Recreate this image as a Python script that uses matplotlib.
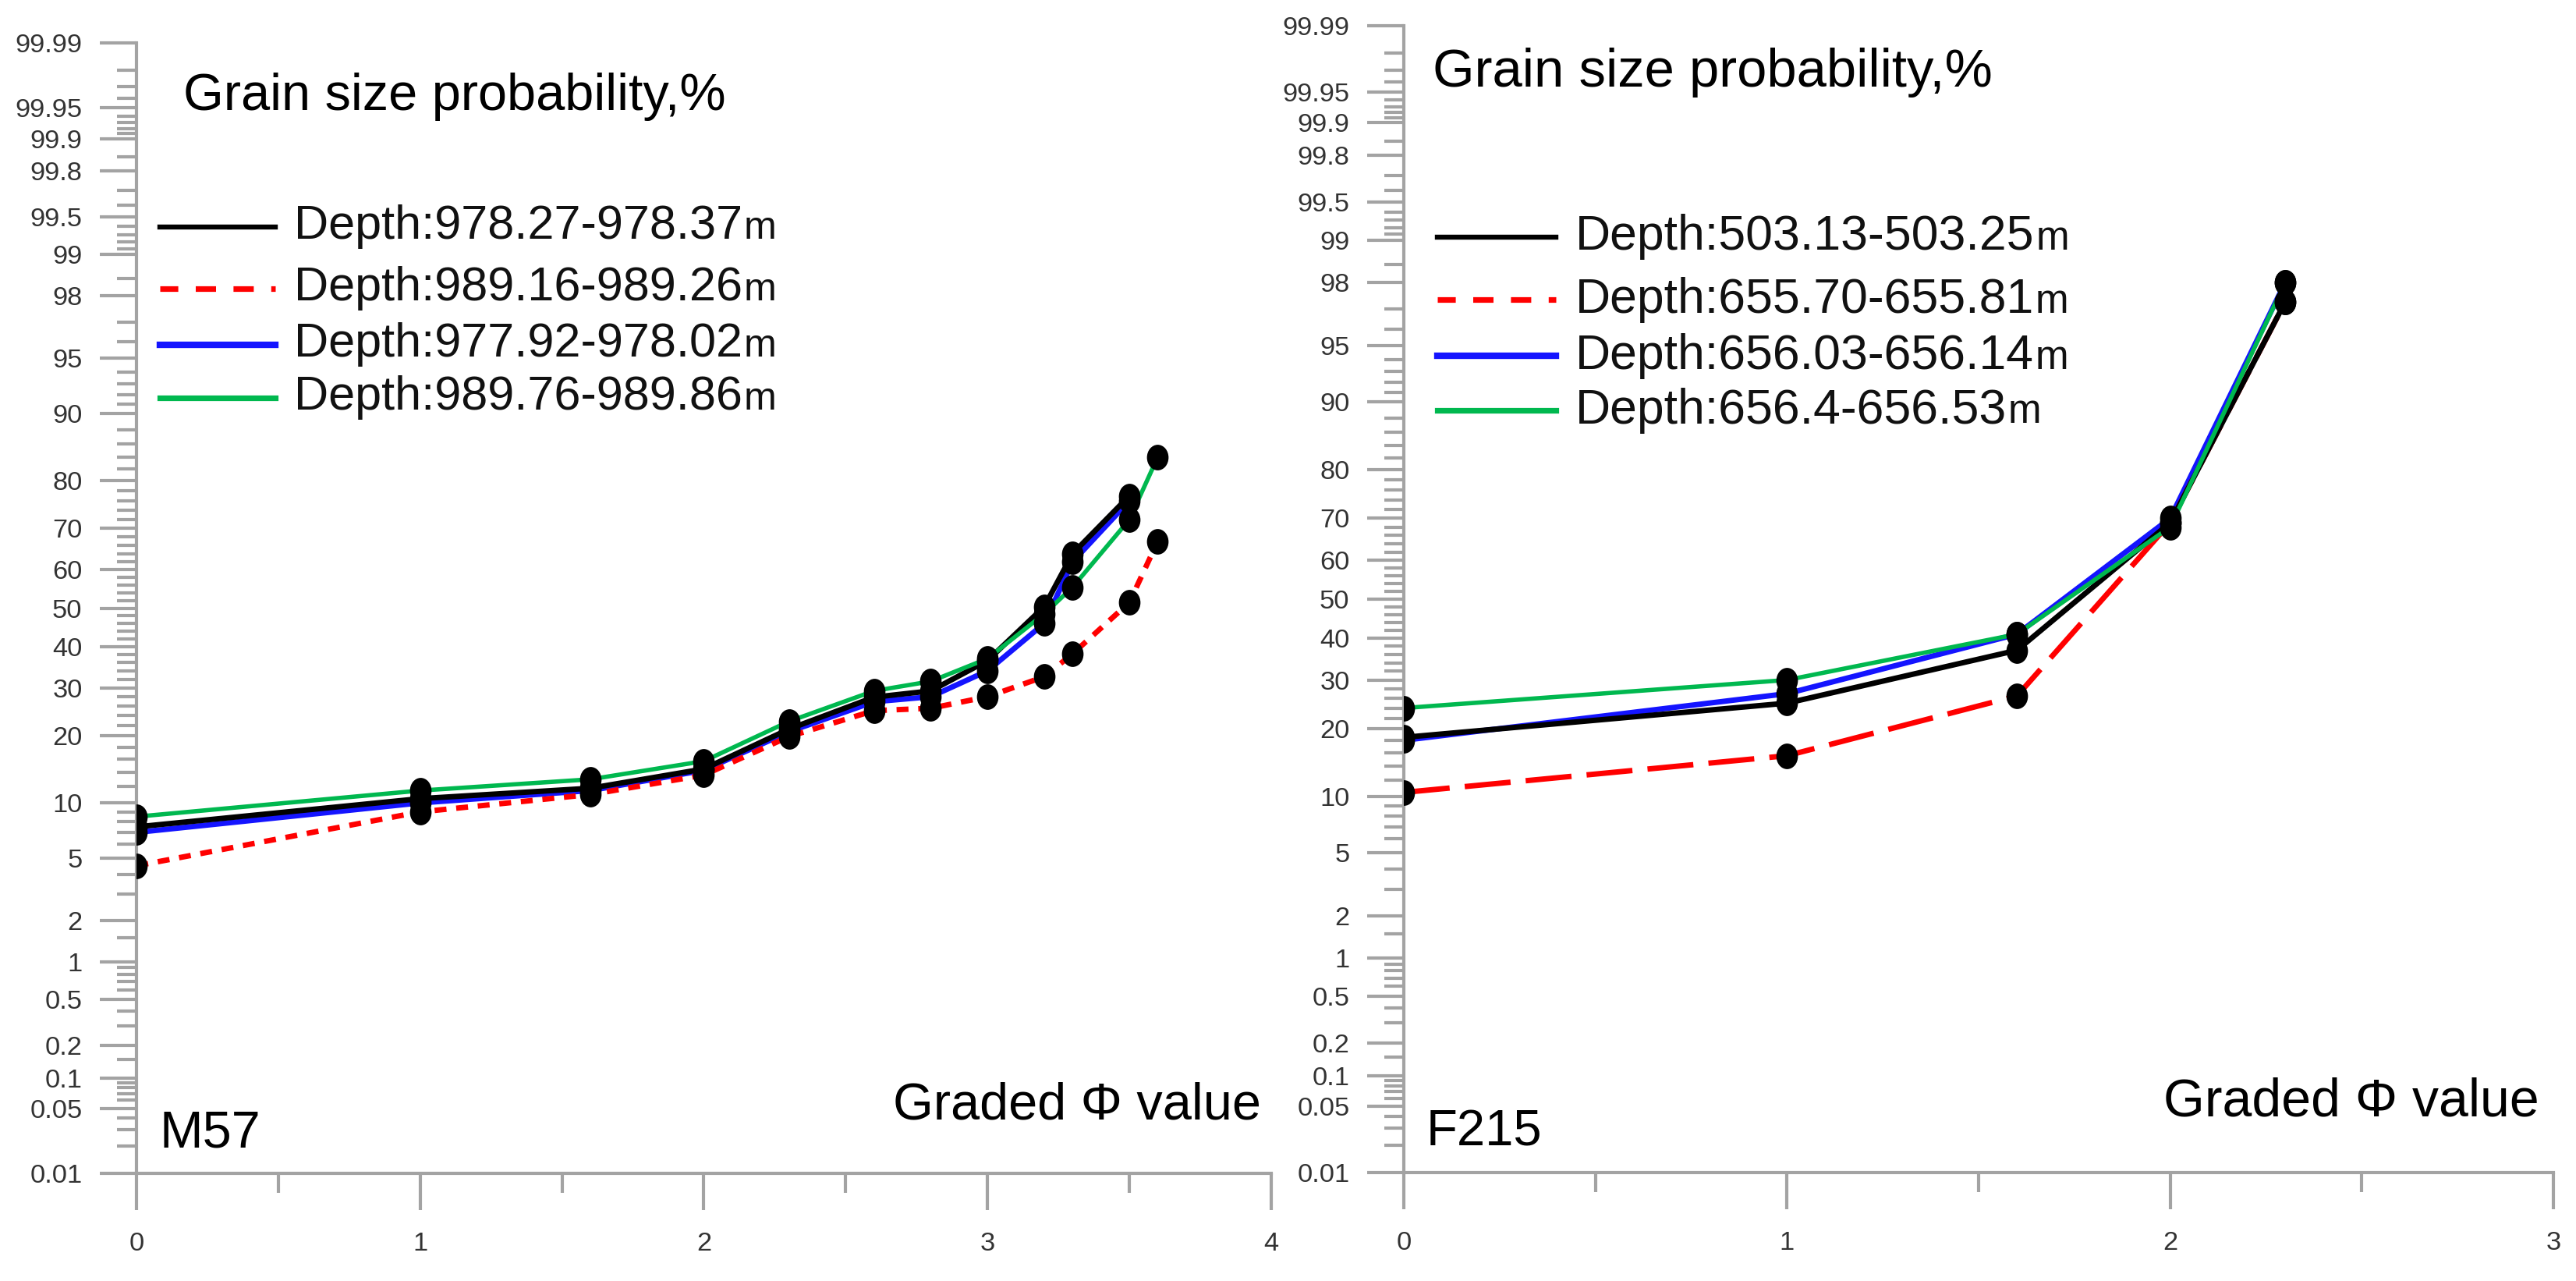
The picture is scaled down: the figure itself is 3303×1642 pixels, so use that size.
import numpy as np
import matplotlib
matplotlib.use("Agg")
import matplotlib.pyplot as plt
from matplotlib.lines import Line2D
from matplotlib.path import Path
from matplotlib.transforms import Affine2D, blended_transform_factory
from statistics import NormalDist

# ---- data (cumulative %, graded phi) ----
phi_m57 = [0, 1, 1.6, 2, 2.3, 2.6, 2.8, 3, 3.2, 3.3, 3.5, 3.6]
m57_a = [7.5, 10.5, 11.8, 14.5, 21.3, 27.9, 29.3, 36.5, 50.4, 64, 77]       # 978.27-978.37
m57_b = [4.5, 9, 11, 13.6, 19.9, 25, 25.5, 28, 32.6, 38.2, 51.5, 67]        # 989.16-989.26
m57_c = [7, 10, 11.5, 14.3, 20.8, 26.9, 28, 34, 46, 62, 76]                 # 977.92-978.02
m57_d = [8.5, 11.5, 13, 15.7, 22.8, 29.3, 31.5, 37, 48.5, 55.5, 72, 84]     # 989.76-989.86
m57_labels = ["Depth:978.27-978.37", "Depth:989.16-989.26",
              "Depth:977.92-978.02", "Depth:989.76-989.86"]

phi_f215 = [0, 1, 1.6, 2, 2.3]
f215_a = [18.5, 25, 37, 69, 97.3]
f215_b = [10.5, 15.5, 26.5, 69, 97.3]
f215_c = [18, 27, 41, 70, 98]
f215_d = [24, 30, 41, 68, 98]
f215_labels = ["Depth:503.13-503.25", "Depth:655.70-655.81",
               "Depth:656.03-656.14", "Depth:656.4-656.53"]

major_p = [0.01, 0.05, 0.1, 0.2, 0.5, 1, 2, 5, 10, 20, 30, 40, 50, 60, 70,
           80, 90, 95, 98, 99, 99.5, 99.8, 99.9, 99.95, 99.99]
minor_p = ([0.02, 0.03, 0.04, 0.06, 0.07, 0.08, 0.09, 0.15, 0.3, 0.4,
            0.6, 0.7, 0.8, 0.9, 1.5, 3, 4, 6, 7, 8, 9]
           + list(range(12, 90, 2))
           + [91, 92, 93, 94, 96, 97, 98.5, 99.1, 99.2, 99.3, 99.4, 99.6, 99.7,
              99.85, 99.91, 99.92, 99.93, 99.94, 99.96, 99.97, 99.98])

# ---- probability (probit) scale ----
ND = NormalDist()
_ppf = np.vectorize(ND.inv_cdf, otypes=[float])
_cdf = np.vectorize(ND.cdf, otypes=[float])

def fwd(p):
    p = np.clip(np.asarray(p, float), 1e-7, 100 - 1e-7)
    return _ppf(p / 100.0)

def inv(z):
    return _cdf(np.asarray(z, float)) * 100.0

plt.rcParams["font.family"] = ["Liberation Sans", "DejaVu Sans"]

GRAY = "#a3a3a3"
TXT = "#333333"
BLACK, RED, BLUE, GREEN = "#000000", "#ff0000", "#1414ff", "#00b84f"
DOT = Path.unit_circle().transformed(Affine2D().scale(0.83, 1.0))

fig = plt.figure(figsize=(16.515, 8.21), dpi=200)
ax1 = fig.add_axes([0.05298, 0.08404, 0.44051, 0.88246])
ax2 = fig.add_axes([0.54496, 0.08466, 0.44626, 0.89524])


def style_axes(ax, xmax):
    ax.set_yscale("function", functions=(fwd, inv))
    ax.set_ylim(0.01, 99.99)
    ax.set_xlim(0, xmax)
    ax.set_yticks(major_p)
    ax.set_yticklabels(["%g" % v for v in major_p], fontsize=12.4, color=TXT)
    ax.set_yticks(minor_p, minor=True)
    ax.set_xticks(range(0, xmax + 1))
    ax.set_xticklabels([str(v) for v in range(0, xmax + 1)], fontsize=12.4,
                       color=TXT)
    ax.set_xticks(np.arange(0.5, xmax, 1.0), minor=True)
    for s in ("top", "right"):
        ax.spines[s].set_visible(False)
    for s in ("left", "bottom"):
        ax.spines[s].set_color(GRAY)
        ax.spines[s].set_linewidth(1.5)
        ax.spines[s].set_zorder(0.5)
    ax.tick_params(axis="y", which="major", length=17, width=1.5, color=GRAY, pad=8)
    ax.tick_params(axis="y", which="minor", length=9, width=1.5, color=GRAY)
    ax.tick_params(axis="x", which="major", length=17, width=1.5, color=GRAY, pad=10)
    ax.tick_params(axis="x", which="minor", length=9, width=1.5, color=GRAY)


def legend_rows(ax, rows, labels, x0, x1, xt, fs):
    styles = [(BLACK, "-", 2.3), (RED, (0.4, (3.6, 3.1)), 2.6),
              (BLUE, "-", 3.0), (GREEN, "-", 2.6)]
    tr = blended_transform_factory(ax.transAxes, ax.transData)
    for yv, lab, (c, ls, lw) in zip(rows, labels, styles):
        ax.add_line(Line2D([x0, x1], [yv, yv], transform=tr, color=c, ls=ls,
                           lw=lw, clip_on=False))
        t = ax.text(xt, yv, lab, transform=tr, ha="left", va="center",
                    fontsize=fs, color="#111111")
        ax.annotate("m", xy=(1, 0), xycoords=t, xytext=(0.6, 0.21 * fs),
                    textcoords="offset points", ha="left", va="baseline",
                    fontsize=fs * 0.82, color="#111111")


def dots(ax, xs, ys):
    ax.plot(xs, ys, ls="none", marker=DOT, ms=10.8, color="black",
            mec="black", zorder=5)


# ---- left panel: M57 ----
style_axes(ax1, 4)
na, nc = len(m57_a), len(m57_c)
ax1.plot(phi_m57[:nc], m57_c, color=BLUE, lw=2.5, zorder=2)
ax1.plot(phi_m57[:na], m57_a, color=BLACK, lw=2.5, zorder=3)
ax1.plot(phi_m57, m57_d, color=GREEN, lw=2.0, zorder=3)
ax1.plot(phi_m57, m57_b, color=RED, lw=2.5, ls=(0, (2.2, 1.8)), zorder=2.5)
dots(ax1, phi_m57[:na], m57_a)
dots(ax1, phi_m57, m57_b)
dots(ax1, phi_m57[:nc], m57_c)
dots(ax1, phi_m57, m57_d)

tr1 = blended_transform_factory(ax1.transAxes, ax1.transData)
ax1.text(0.041, 99.962, "Grain size probability,%", transform=tr1,
         fontsize=24, va="center", ha="left")
legend_rows(ax1, [99.395, 98.23, 95.85, 91.7], m57_labels,
            0.0206, 0.1223, 0.1388, 22)
ax1.text(0.02, 0.027, "M57", transform=tr1, fontsize=24, va="center", ha="left")
ax1.text(0.9911, 0.053, "Graded \u03a6 value", transform=tr1, fontsize=24,
         va="center", ha="right")

# ---- right panel: F215 ----
style_axes(ax2, 3)
ax2.plot(phi_f215, f215_c, color=BLUE, lw=2.5, zorder=2)
ax2.plot(phi_f215, f215_a, color=BLACK, lw=2.5, zorder=3)
ax2.plot(phi_f215, f215_d, color=GREEN, lw=2.0, zorder=3)
ax2.plot(phi_f215, f215_b, color=RED, lw=2.5, ls=(0, (8.5, 2.8)), zorder=2.5)
for ys in (f215_a, f215_b, f215_c, f215_d):
    dots(ax2, phi_f215, ys)

tr2 = blended_transform_factory(ax2.transAxes, ax2.transData)
ax2.text(0.0251, 99.968, "Grain size probability,%", transform=tr2,
         fontsize=24.8, va="center", ha="left")
legend_rows(ax2, [99.06, 97.39, 94.27, 88.96], f215_labels,
            0.0292, 0.1323, 0.1493, 22.5)
ax2.text(0.0197, 0.027, "F215", transform=tr2, fontsize=23.5, va="center", ha="left")
ax2.text(0.9878, 0.055, "Graded \u03a6 value", transform=tr2, fontsize=24.5,
         va="center", ha="right")

fig.savefig("out.png", dpi=200)
